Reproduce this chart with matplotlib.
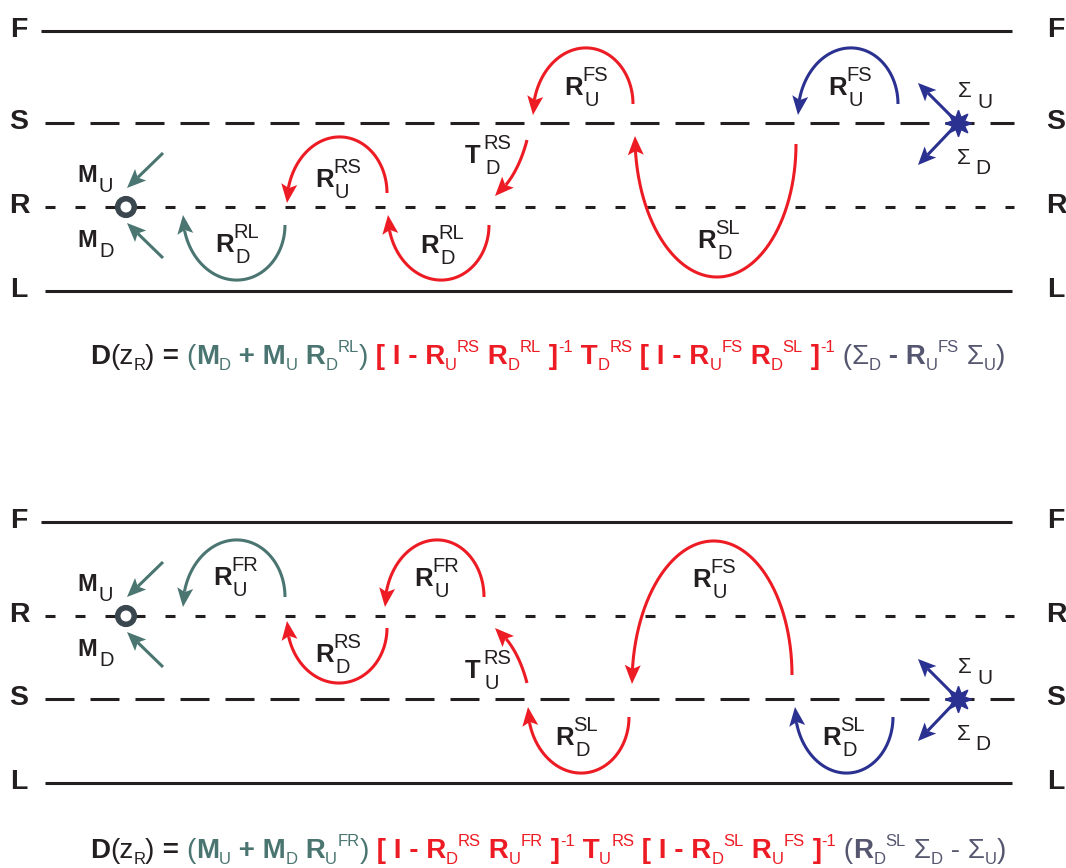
import numpy as np
import matplotlib
matplotlib.use("Agg")
import matplotlib.pyplot as plt
from matplotlib.patches import Polygon, Circle

plt.rcParams['font.family'] = ['Liberation Sans', 'DejaVu Sans']
plt.rcParams['lines.scale_dashes'] = False

INK = '#231f20'
TEAL = '#4a7571'
RED = '#ed1c24'
BLUE = '#2b3190'
SLATE = '#55566f'
RING = '#3a474e'

# layers of each panel (pixel rows, y grows downward)
top_layers = ['F', 'S', 'R', 'L']
top_layer_y = [31, 123, 207, 291]
bot_layers = ['F', 'R', 'S', 'L']
bot_layer_y = [522, 616, 699, 783]

# reverberation arcs: tail point, arrow tip, turning depth
top_tail = [(285, 225), (387, 193), (489, 225), (633, 104), (796, 144), (898, 104)]
top_tip = [(183, 215), (287, 203), (388, 215), (533, 115), (635, 136), (798, 115)]
top_turn = [280, 137, 280, 48, 277, 48]
top_colors = [TEAL, RED, RED, RED, RED, BLUE]

bot_tail = [(285, 597), (387, 628), (484, 597), (629, 717), (792, 675), (893, 717)]
bot_tip = [(183, 607), (287, 621), (385, 607), (528, 707), (632, 684), (795, 707)]
bot_turn = [540, 683, 540, 773, 541, 773]
bot_colors = [TEAL, RED, RED, RED, RED, BLUE]

# transmission arrows (tail, bend control, tip)
top_trans = [(527, 140), (517, 178), (495, 196)]
bot_trans = [(527, 683), (517, 645), (495, 628)]

# operator labels: letter, superscript, subscript, left x, baseline
top_labels = [('R', 'RL', 'D', 215, 252), ('R', 'RS', 'U', 315, 187),
              ('T', 'RS', 'D', 465, 163), ('R', 'RL', 'D', 420, 253),
              ('R', 'FS', 'U', 564, 95), ('R', 'SL', 'D', 697, 248),
              ('R', 'FS', 'U', 828, 95)]
bot_labels = [('R', 'FR', 'U', 213, 585), ('R', 'RS', 'D', 315, 662),
              ('R', 'FR', 'U', 414, 586), ('T', 'RS', 'U', 465, 678),
              ('R', 'SL', 'D', 555, 745), ('R', 'FS', 'U', 692, 587),
              ('R', 'SL', 'D', 822, 745)]

receiver_x = 126
source_x = 958

# formulas: text, colour, kind (b bold, r regular, ^ sup, _ sub)
formula_top = [
    ("D", INK, 'b'), ("(z", INK, 'r'), ("R", INK, '_'), (")", INK, 'r'), (" = ", INK, 'b'),
    ("(", TEAL, 'r'), ("M", TEAL, 'b'), ("D", TEAL, '_'), (" + M", TEAL, 'b'), ("U", TEAL, '_'),
    (" R", TEAL, 'b'), ("D", TEAL, '_'), ("RL", TEAL, '^'), (")", TEAL, 'r'),
    (" [ I - R", RED, 'b'), ("U", RED, '_'), ("RS", RED, '^'), (" R", RED, 'b'), ("D", RED, '_'),
    ("RL", RED, '^'), (" ]", RED, 'b'), ("-1", RED, '^'), (" T", RED, 'b'), ("D", RED, '_'),
    ("RS", RED, '^'), (" [ I - R", RED, 'b'), ("U", RED, '_'), ("FS", RED, '^'), (" R", RED, 'b'),
    ("D", RED, '_'), ("SL", RED, '^'), (" ]", RED, 'b'), ("-1", RED, '^'),
    (" (", SLATE, 'r'), ("Σ", SLATE, 'r'), ("D", SLATE, '_'), (" - R", SLATE, 'b'), ("U", SLATE, '_'),
    ("FS", SLATE, '^'), (" Σ", SLATE, 'r'), ("U", SLATE, '_'), (")", SLATE, 'r'),
]
formula_bot = [
    ("D", INK, 'b'), ("(z", INK, 'r'), ("R", INK, '_'), (")", INK, 'r'), (" = ", INK, 'b'),
    ("(", TEAL, 'r'), ("M", TEAL, 'b'), ("U", TEAL, '_'), (" + M", TEAL, 'b'), ("D", TEAL, '_'),
    (" R", TEAL, 'b'), ("U", TEAL, '_'), ("FR", TEAL, '^'), (")", TEAL, 'r'),
    (" [ I - R", RED, 'b'), ("D", RED, '_'), ("RS", RED, '^'), (" R", RED, 'b'), ("U", RED, '_'),
    ("FR", RED, '^'), (" ]", RED, 'b'), ("-1", RED, '^'), (" T", RED, 'b'), ("U", RED, '_'),
    ("RS", RED, '^'), (" [ I - R", RED, 'b'), ("D", RED, '_'), ("SL", RED, '^'), (" R", RED, 'b'),
    ("U", RED, '_'), ("FS", RED, '^'), (" ]", RED, 'b'), ("-1", RED, '^'),
    (" (", SLATE, 'r'), ("R", SLATE, 'b'), ("D", SLATE, '_'), ("SL", SLATE, '^'), (" Σ", SLATE, 'r'),
    ("D", SLATE, '_'), (" - Σ", SLATE, 'r'), ("U", SLATE, '_'), (")", SLATE, 'r'),
]

LW = 2.2

fig = plt.figure(figsize=(10.66, 8.68), dpi=100)
ax = fig.add_axes([0, 0, 1, 1])
ax.set_xlim(0, 1066)
ax.set_ylim(868, 0)
ax.axis('off')
renderer = fig.canvas.get_renderer()


def head(tip, d, color, length=19, half=8, notch=4):
    d = np.asarray(d, float)
    d = d / np.hypot(*d)
    n = np.array([-d[1], d[0]])
    tip = np.asarray(tip, float)
    base = tip - length * d
    pts = [tip, base + half * n, tip - (length - notch) * d, base - half * n]
    ax.add_patch(Polygon(pts, closed=True, facecolor=color, edgecolor='none', zorder=4))


def curve_arrow(pts, color, length=19, half=8, notch=4):
    pts = np.asarray(pts, float)
    tip = pts[-1]
    dist = np.hypot(*(pts - tip).T)
    idx = np.where(dist >= length)[0][-1]
    d = tip - pts[idx]
    d = d / np.hypot(*d)
    keep = pts[dist >= length - notch]
    line = np.vstack([keep, tip - (length - notch) * d])
    ax.plot(line[:, 0], line[:, 1], color=color, lw=LW, solid_capstyle='butt', zorder=3)
    head(tip, d, color, length, half, notch)


def arc(tail, tip, turn, color):
    t = np.linspace(0, np.pi, 300)
    xc = (tail[0] + tip[0]) / 2
    mid = (tail[1] + tip[1]) / 2
    x = xc + (tail[0] - xc) * np.cos(t)
    y = tail[1] + (tip[1] - tail[1]) * t / np.pi + (turn - mid) * np.sin(t)
    curve_arrow(np.column_stack([x, y]), color)


def bend(p0, p1, p2, color):
    s = np.linspace(0, 1, 100)[:, None]
    p0, p1, p2 = (np.asarray(p, float) for p in (p0, p1, p2))
    pts = (1 - s) ** 2 * p0 + 2 * (1 - s) * s * p1 + s ** 2 * p2
    curve_arrow(pts, color)


def layers(names, ys):
    for name, y in zip(names, ys):
        if name in ('F', 'L'):
            ax.plot([45 if name == 'L' else 41, 1012], [y, y], color=INK, lw=LW,
                    solid_capstyle='butt')
        elif name == 'S':
            ax.plot([45, 1014], [y, y], color=INK, lw=LW, dash_capstyle='butt',
                    linestyle=(0, (29 * 0.72, 16 * 0.72)))
        else:
            ax.plot([45, 1014], [y, y], color=INK, lw=LW, dash_capstyle='butt',
                    linestyle=(0, (10 * 0.72, 20 * 0.72)))
        for xl in (19, 1056):
            ax.text(xl, y + 6, name, fontsize=20.5, fontweight='bold', color=INK,
                    ha='center', va='baseline')


def op_label(letter, sup, sub, x, y):
    ax.text(x, y, letter, fontsize=18.5, fontweight='bold', color=INK, va='baseline')
    ax.text(x + 18, y - 14, sup, fontsize=14.5, color=INK, va='baseline')
    ax.text(x + 20, y + 11, sub, fontsize=14.5, color=INK, va='baseline')


def receiver(y):
    ax.add_patch(Circle((receiver_x, y), 8.3, facecolor='white', edgecolor=RING,
                        lw=4, zorder=5))
    curve_arrow([(receiver_x + 37, y - 54), (receiver_x + 1, y - 19)], TEAL)
    curve_arrow([(receiver_x + 37, y + 51), (receiver_x + 1, y + 16)], TEAL)
    ax.text(77, y - 25, 'M', fontsize=17, fontweight='bold', color=INK, va='baseline')
    ax.text(99, y - 15, 'U', fontsize=14.5, color=INK, va='baseline')
    ax.text(77, y + 40, 'M', fontsize=17, fontweight='bold', color=INK, va='baseline')
    ax.text(99, y + 50, 'D', fontsize=14.5, color=INK, va='baseline')


def source(y):
    curve_arrow([(source_x, y), (source_x - 40, y - 40)], BLUE, length=18, half=8)
    curve_arrow([(source_x, y), (source_x - 40, y + 42)], BLUE, length=18, half=8)
    ax.plot(source_x, y, marker=(8, 1, 0), ms=19, color=BLUE, mec=BLUE, zorder=6)
    ax.text(source_x, y - 26, 'Σ', fontsize=16, color=INK, va='baseline')
    ax.text(source_x + 19, y - 15, 'U', fontsize=15, color=INK, va='baseline')
    ax.text(source_x - 1, y + 41, 'Σ', fontsize=16, color=INK, va='baseline')
    ax.text(source_x + 17, y + 51, 'D', fontsize=15, color=INK, va='baseline')


def width(txt, **kw):
    a = ax.text(0, 0, '|' + txt + '|', **kw)
    b = ax.text(0, 0, '||', **kw)
    w = a.get_window_extent(renderer).width - b.get_window_extent(renderer).width
    a.remove()
    b.remove()
    return w


def styles(kind, col, size):
    if kind in 'br':
        return dict(fontsize=size, fontweight='bold' if kind == 'b' else 'normal',
                    color=col, va='baseline')
    return dict(fontsize=size * 0.6, color=col, va='baseline')


def formula(parts, x0, x1, y, base=20):
    total = sum(width(t, **styles(k, c, base)) for t, c, k in parts)
    size = base * (x1 - x0) / total
    cap = size * 100 / 72 * 0.69
    x = x0
    for txt, col, kind in parts:
        kw = styles(kind, col, size)
        yy = y - 0.62 * cap if kind == '^' else (y + 0.3 * cap if kind == '_' else y)
        ax.text(x, yy, txt, **kw)
        x += width(txt, **kw)


layers(top_layers, top_layer_y)
layers(bot_layers, bot_layer_y)

for tail, tip, turn, col in zip(top_tail, top_tip, top_turn, top_colors):
    arc(tail, tip, turn, col)
for tail, tip, turn, col in zip(bot_tail, bot_tip, bot_turn, bot_colors):
    arc(tail, tip, turn, col)
bend(*top_trans, RED)
bend(*bot_trans, RED)

for lab in top_labels + bot_labels:
    op_label(*lab)

receiver(top_layer_y[2])
receiver(bot_layer_y[1])
source(top_layer_y[1])
source(bot_layer_y[2])

formula(formula_top, 90, 1005, 364)
formula(formula_bot, 90, 1005, 858)

fig.savefig('out.png', dpi=100)
